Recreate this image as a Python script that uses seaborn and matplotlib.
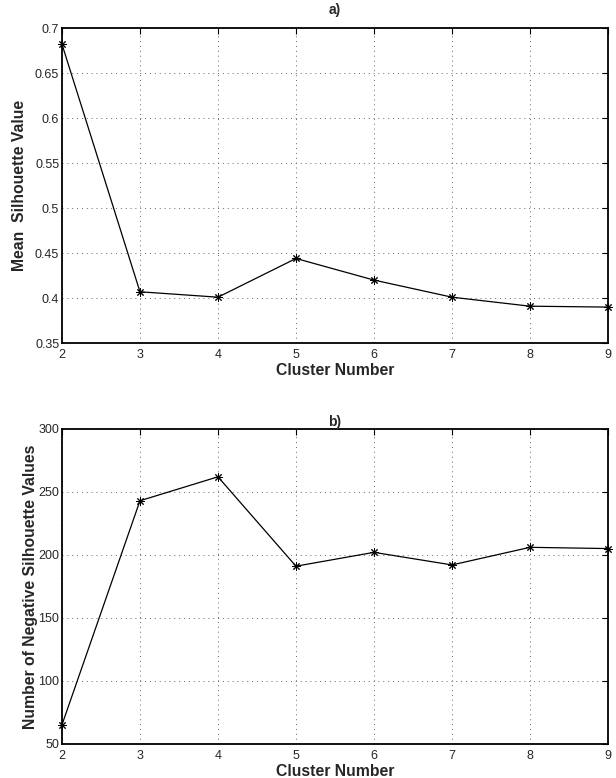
import numpy as np
import pandas as pd
import seaborn as sns
import matplotlib.pyplot as plt

cluster_number = [2, 3, 4, 5, 6, 7, 8, 9]
mean_silhouette = [0.682, 0.407, 0.401, 0.444, 0.420, 0.401, 0.391, 0.390]
negative_counts = [65, 243, 262, 191, 202, 192, 206, 205]

sns.set_style("white")
plt.rcParams['font.family'] = ['Liberation Sans', 'DejaVu Sans']
plt.rcParams['xtick.direction'] = 'in'
plt.rcParams['ytick.direction'] = 'in'

df = pd.DataFrame({'Cluster': cluster_number,
                   'Mean': mean_silhouette,
                   'Negative': negative_counts})

fig = plt.figure(figsize=(6.16, 7.78), dpi=100)
ax1 = fig.add_axes([0.1006, 0.559, 0.8864, 0.405])
ax2 = fig.add_axes([0.1006, 0.0441, 0.8864, 0.4045])


def style_axis(ax, ylim, yticks, yticklabels, ylabel, title, ylabel_x, title_pad):
    ax.set_xlim(2, 9)
    ax.set_ylim(*ylim)
    ax.set_xticks(cluster_number)
    ax.set_xticklabels([str(c) for c in cluster_number], fontsize=9)
    ax.set_yticks(yticks)
    ax.set_yticklabels(yticklabels, fontsize=9)
    ax.grid(True, linestyle=(0, (1, 4)), color='#666666', linewidth=0.7)
    ax.tick_params(length=4, width=0.8, top=True, right=True, color='black')
    ax.tick_params(axis='x', pad=4.5)
    ax.tick_params(axis='y', pad=2)
    for s in ax.spines.values():
        s.set_visible(True)
        s.set_color('black')
        s.set_linewidth(1.3)
    ax.set_xlabel('Cluster Number', fontsize=11.3, fontweight='bold', labelpad=1.5)
    ax.set_ylabel(ylabel, fontsize=11.3, fontweight='bold')
    ax.yaxis.set_label_coords(ylabel_x, 0.5)
    ax.set_title(title, fontsize=10, fontweight='bold', pad=title_pad)


sns.lineplot(data=df, x='Cluster', y='Mean', ax=ax1, color='black', linewidth=0.9,
             marker=(8, 2, 0), markersize=6, markeredgecolor='black', markeredgewidth=0.7,
             clip_on=False)
style_axis(ax1, (0.35, 0.7), np.arange(0.35, 0.701, 0.05),
           ['0.35', '0.4', '0.45', '0.5', '0.55', '0.6', '0.65', '0.7'],
           'Mean  Silhouette Value', 'a)', -0.064, 10)

sns.lineplot(data=df, x='Cluster', y='Negative', ax=ax2, color='black', linewidth=0.9,
             marker=(8, 2, 0), markersize=6, markeredgecolor='black', markeredgewidth=0.7,
             clip_on=False)
style_axis(ax2, (50, 300), np.arange(50, 301, 50),
           [str(v) for v in range(50, 301, 50)],
           'Number of Negative Silhouette Values', 'b)', -0.044, 2)

fig.savefig('out.png', dpi=100)
